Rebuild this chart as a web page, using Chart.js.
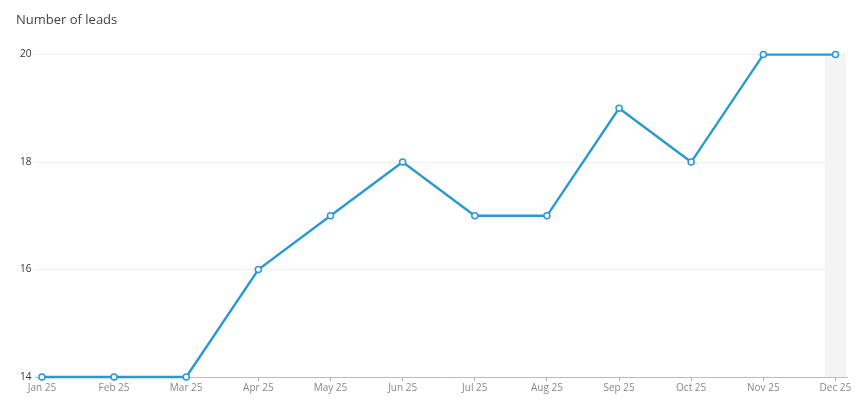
<!DOCTYPE html>
<html>
<head>
<meta charset="utf-8">
<script src="https://cdn.jsdelivr.net/npm/chart.js@4/dist/chart.umd.min.js"></script>
<style>
  html, body { margin: 0; padding: 0; background: #fff; }
  #wrap { width: 865px; height: 405px; }
</style>
</head>
<body>
<div id="wrap"><canvas id="c"></canvas></div>
<script>
const categories = ["Jan 25","Feb 25","Mar 25","Apr 25","May 25","Jun 25","Jul 25","Aug 25","Sep 25","Oct 25","Nov 25","Dec 25"];
const leads = [14, 14, 14, 16, 17, 18, 17, 17, 19, 18, 20, 20];
const yTicks = [14, 16, 18, 20];
const highlightIndex = 11;

const bandPlugin = {
  id: 'band',
  beforeDatasetsDraw(chart) {
    const { ctx, chartArea, scales } = chart;
    const x = scales.x;
    const l = x.getPixelForValue(highlightIndex - 0.15);
    const r = x.getPixelForValue(highlightIndex + 0.15);
    ctx.save();
    ctx.fillStyle = '#f4f4f4';
    ctx.fillRect(l, chartArea.top, r - l, chartArea.bottom - chartArea.top);
    ctx.restore();
  }
};

new Chart(document.getElementById('c'), {
  type: 'line',
  data: {
    datasets: [{
      label: 'Number of leads',
      data: leads.map((v, i) => ({ x: i, y: v })),
      borderColor: '#2b98d6',
      borderWidth: 2.4,
      pointBackgroundColor: '#ffffff',
      pointBorderColor: '#2b98d6',
      pointBorderWidth: 1.5,
      pointRadius: 3,
      tension: 0,
      clip: false
    }]
  },
  options: {
    responsive: true,
    maintainAspectRatio: false,
    animation: false,
    layout: { padding: { left: 16, right: 18, top: 12, bottom: 10 } },
    plugins: {
      legend: { display: false },
      tooltip: { enabled: false },
      title: {
        display: true,
        text: 'Number of leads',
        align: 'start',
        color: '#444',
        font: { family: 'Open Sans', size: 13, weight: 'normal' },
        padding: { top: 0, bottom: 27 }
      }
    },
    scales: {
      x: {
        type: 'linear',
        min: -0.09,
        max: 11.16,
        afterBuildTicks(scale) {
          scale.ticks = categories.map((_, i) => ({ value: i }));
        },
        ticks: {
          callback: (v) => categories[v],
          color: '#888',
          font: { family: 'Open Sans', size: 10 },
          padding: 1,
          maxRotation: 0,
          autoSkip: false
        },
        grid: { drawOnChartArea: false, drawTicks: true, tickLength: 4, color: '#aaa' },
        border: { display: true, color: '#bbb', width: 1 }
      },
      y: {
        min: 14,
        max: 20,
        afterBuildTicks(scale) {
          scale.ticks = yTicks.map(v => ({ value: v }));
        },
        ticks: {
          color: '#333',
          font: { family: 'Open Sans', size: 10 },
          padding: 4
        },
        grid: { color: '#efefef', drawTicks: false },
        border: { display: false }
      }
    }
  },
  plugins: [bandPlugin]
});
</script>
</body>
</html>
